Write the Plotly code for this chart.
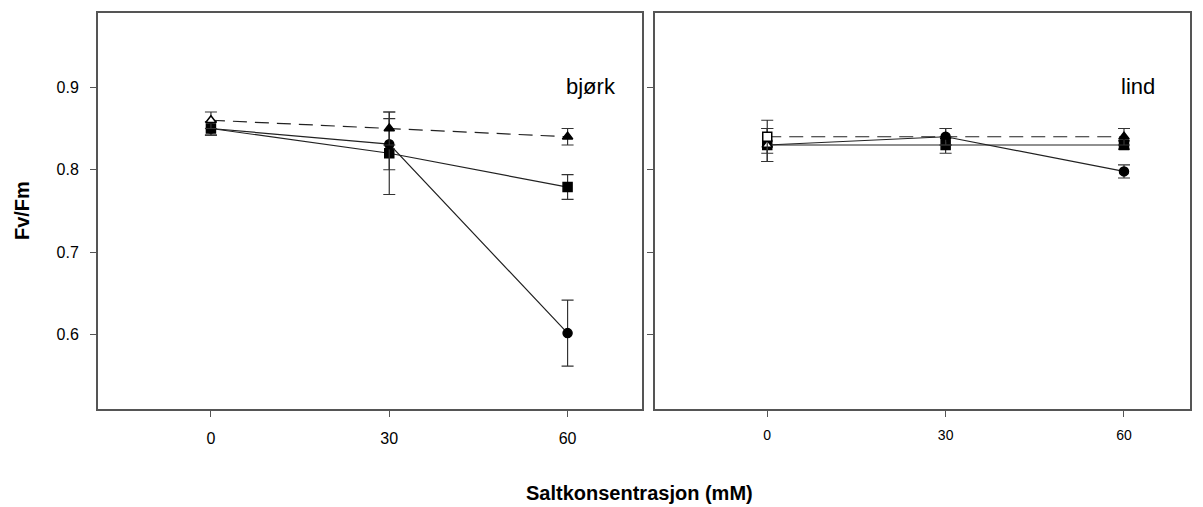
import plotly.graph_objects as go

x_vals = [0, 30, 60]

# bjørk (left panel)
bj_tri = [0.86, 0.85, 0.84]
bj_tri_err = [0.01, 0.02, 0.01]
bj_sq = [0.85, 0.82, 0.779]
bj_sq_err = [0.008, 0.05, 0.015]
bj_circ = [0.85, 0.831, 0.602]
bj_circ_err = [0.008, 0.031, 0.04]

# lind (right panel)
li_tri = [0.84, 0.84, 0.84]
li_tri_err = [0.02, 0.01, 0.01]
li_sq = [0.83, 0.83, 0.83]
li_sq_err = [0.02, 0.01, 0.005]
li_circ = [0.83, 0.84, 0.798]
li_circ_err = [0.02, 0.01, 0.008]

y_ticks = [0.6, 0.7, 0.8, 0.9]
x_ticks = [0, 30, 60]

fig = go.Figure()

def add(y, err, sym, cols, dash, xa, ya):
    fig.add_trace(go.Scatter(
        x=x_vals, y=y, mode="lines+markers",
        line=dict(color="#222", width=1.2, dash=dash),
        marker=dict(symbol=sym, size=9, color=cols, line=dict(color="black", width=1.5)),
        error_y=dict(type="data", array=err, visible=True, color="#333", thickness=1.2, width=6),
        xaxis=xa, yaxis=ya, showlegend=False, cliponaxis=False))

# left
add(bj_sq, bj_sq_err, ["square", "square", "square"], ["black"] * 3, "solid", "x", "y")
add(bj_circ, bj_circ_err, ["circle", "circle", "circle"], ["black"] * 3, "solid", "x", "y")
add(bj_tri, bj_tri_err, ["triangle-up"] * 3, ["white", "black", "black"], "14px,8px", "x", "y")
# right
add(li_sq, li_sq_err, ["square"] * 3, ["black"] * 3, "solid", "x2", "y2")
add(li_circ, li_circ_err, ["triangle-up", "circle", "circle"], ["white", "black", "black"], "solid", "x2", "y2")
add(li_tri, li_tri_err, ["square", "triangle-up", "triangle-up"], ["white", "black", "black"], "14px,8px", "x2", "y2")

axis_common = dict(showline=True, linecolor="#555", linewidth=2, mirror=True, showgrid=False,
                   zeroline=False, ticks="outside", ticklen=6, tickcolor="#555", tickwidth=1.2)

fig.update_layout(
    width=1203, height=507,
    margin=dict(l=98, r=12, t=11, b=98),
    plot_bgcolor="white", paper_bgcolor="white",
    font=dict(family="Liberation Sans, Arial, sans-serif", color="black"),
    xaxis=dict(domain=[0, 0.4986], range=[-19.0, 72.6], tickvals=x_ticks,
               tickfont=dict(size=16), ticklabelstandoff=8, **axis_common),
    xaxis2=dict(domain=[0.5105, 1], range=[-18.8, 71.1], tickvals=x_ticks,
                tickfont=dict(size=14), ticklabelstandoff=6, anchor="y2", **axis_common),
    yaxis=dict(range=[0.51, 0.99], tickvals=y_ticks, tickformat=".1f",
               tickfont=dict(size=16), ticklabelstandoff=8, **axis_common),
    yaxis2=dict(range=[0.51, 0.99], tickvals=y_ticks, showticklabels=False,
                anchor="x2", **axis_common),
    annotations=[
        dict(text="bjørk", x=0.955, y=0.814, xref="x domain", yref="y domain",
             xanchor="right", yanchor="middle", showarrow=False, font=dict(size=22)),
        dict(text="lind", x=0.938, y=0.814, xref="x2 domain", yref="y2 domain",
             xanchor="right", yanchor="middle", showarrow=False, font=dict(size=22)),
        dict(text="<b>Fv/Fm</b>", x=22, y=210, xref="paper", yref="paper", showarrow=False,
             textangle=-90, font=dict(size=20)),
        dict(text="<b>Saltkonsentrasjon (mM)</b>", showarrow=False, font=dict(size=20),
             x=0.5, y=0, xref="paper", yref="paper"),
    ],
)

plot_w = 1203 - 98 - 12
plot_h = 507 - 11 - 98
ann = list(fig.layout.annotations)
ann[2].update(x=(22 - 98) / plot_w, y=(507 - 98 - 210) / plot_h, xanchor="center", yanchor="middle")
ann[3].update(x=(640 - 98) / plot_w, y=(507 - 98 - 493) / plot_h, xanchor="center", yanchor="middle")
fig.layout.annotations = ann

fig.write_html("out.html")
